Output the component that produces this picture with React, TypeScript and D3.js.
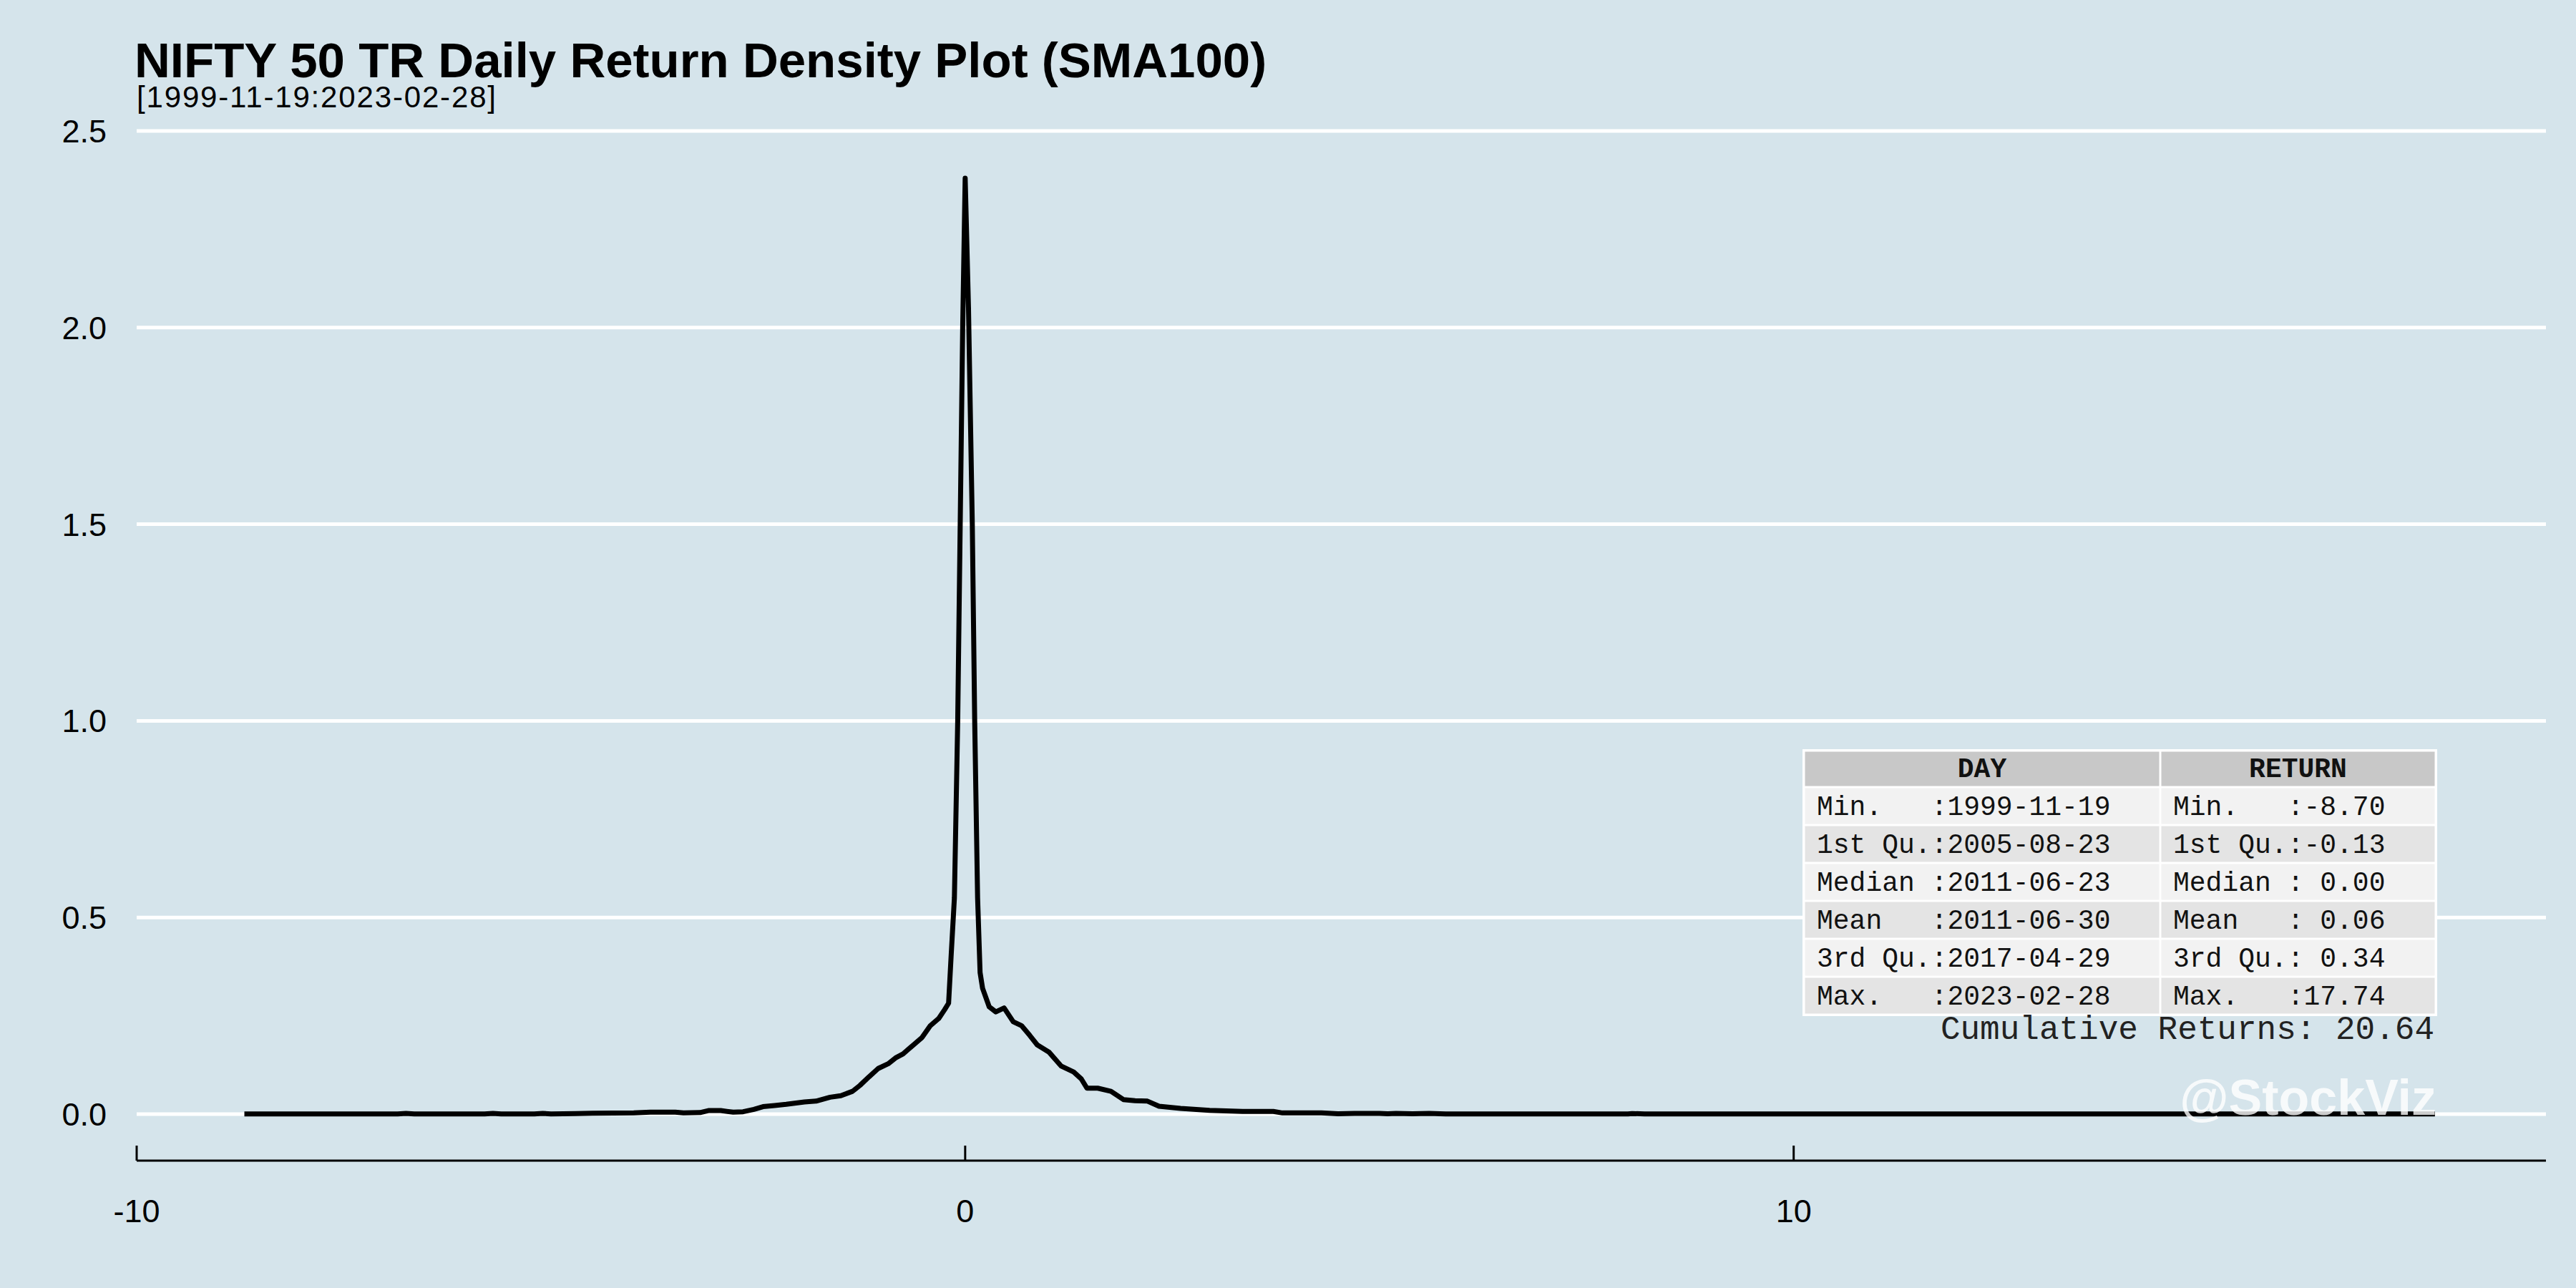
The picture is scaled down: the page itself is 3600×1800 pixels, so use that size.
import React from 'react';
import * as d3 from 'd3';

const titleText = 'NIFTY 50 TR Daily Return Density Plot (SMA100)';
const subtitleText = '[1999-11-19:2023-02-28]';
const watermarkText = '@StockViz';
const cumulativeText = 'Cumulative Returns: 20.64';

const returnX = [
  -8.7, -6.85, -6.75, -6.65, -5.8, -5.7, -5.6, -5.2, -5.1, -5.0, -4.7, -4.5, -4.0, -3.8, -3.5,
  -3.4, -3.2, -3.1, -2.95, -2.8, -2.68, -2.55, -2.44, -2.3, -2.16, -1.94, -1.8, -1.63, -1.5,
  -1.36, -1.27, -1.16, -1.05, -0.93, -0.84, -0.75, -0.63, -0.52, -0.42, -0.32, -0.25, -0.2,
  -0.17, -0.13, -0.09, -0.06, -0.03, 0.0, 0.04, 0.086, 0.115, 0.15, 0.18, 0.21, 0.29, 0.37,
  0.47, 0.58, 0.68, 0.78, 0.87, 1.01, 1.16, 1.31, 1.4, 1.47, 1.6, 1.76, 1.91, 2.05, 2.2, 2.34,
  2.6, 2.95, 3.35, 3.72, 3.83, 4.3, 4.5, 4.7, 5.0, 5.1, 5.2, 5.4, 5.6, 5.8, 8.0, 8.05, 8.2, 17.74,
];

const densityY = [
  0.0005, 0.0005, 0.002, 0.0005, 0.0005, 0.002, 0.0005, 0.0005, 0.002, 0.0005, 0.0015, 0.0025,
  0.003, 0.005, 0.005, 0.003, 0.004, 0.009, 0.009, 0.005, 0.006, 0.012, 0.019, 0.022, 0.025,
  0.031, 0.033, 0.043, 0.047, 0.058, 0.073, 0.095, 0.116, 0.128, 0.143, 0.153, 0.175, 0.195,
  0.225, 0.243, 0.265, 0.282, 0.4, 0.55, 1.0, 1.5, 2.0, 2.38, 2.05, 1.5, 1.0, 0.55, 0.36, 0.32,
  0.273, 0.26, 0.27, 0.235, 0.225, 0.2, 0.176, 0.158, 0.122, 0.107, 0.09, 0.066, 0.066, 0.058,
  0.037, 0.034, 0.033, 0.02, 0.0145, 0.0096, 0.0067, 0.0067, 0.003, 0.003, 0.001, 0.002, 0.002,
  0.001, 0.002, 0.001, 0.002, 0.0005, 0.0005, 0.0015, 0.0005, 0.0005,
];

const xTickValues = [-10, 0, 10];
const xTickLabels = ['-10', '0', '10'];
const yTickValues = [0, 0.5, 1, 1.5, 2, 2.5];
const yTickLabels = ['0.0', '0.5', '1.0', '1.5', '2.0', '2.5'];

const tableHeaders = ['DAY', 'RETURN'];
const dayStats = [
  'Min.   :1999-11-19',
  '1st Qu.:2005-08-23',
  'Median :2011-06-23',
  'Mean   :2011-06-30',
  '3rd Qu.:2017-04-29',
  'Max.   :2023-02-28',
];
const returnStats = [
  'Min.   :-8.70',
  '1st Qu.:-0.13',
  'Median : 0.00',
  'Mean   : 0.06',
  '3rd Qu.: 0.34',
  'Max.   :17.74',
];

const W = 3600;
const H = 1800;
const BG = '#d5e4eb';
const SANS = '"Liberation Sans", Arial, sans-serif';
const MONO = '"Liberation Mono", "Courier New", monospace';

export default function App() {
  const x = d3.scaleLinear().domain([-10, 19.08]).range([191, 3558]);
  const y = d3.scaleLinear().domain([0, 2.5]).range([1557, 183]);
  const pts = returnX.map((v, i) => [v, densityY[i]] as [number, number]);
  const line = d3
    .line<[number, number]>()
    .x((d) => x(d[0]))
    .y((d) => y(d[1]));
  const axisY = 1622;

  // table geometry
  const tLeft = 2521;
  const tRight = 3404;
  const tSplit = 3019;
  const tTop = 1049;
  const headH = 51;
  const rowH = 53;
  const colX = [tLeft, tSplit];
  const colW = [tSplit - tLeft, tRight - tSplit];
  const cols = [dayStats, returnStats];

  return (
    <svg
      width={W}
      height={H}
      viewBox={`0 0 ${W} ${H}`}
      style={{ position: 'absolute', left: 0, top: 0, display: 'block' }}
    >
      <rect x={0} y={0} width={W} height={H} fill={BG} />
      {/* gridlines */}
      {yTickValues.map((v) => (
        <line key={'g' + v} x1={191} x2={3558} y1={y(v)} y2={y(v)} stroke="#ffffff" strokeWidth={5} />
      ))}
      {/* y labels */}
      {yTickValues.map((v, i) => (
        <text
          key={'yl' + v}
          x={149}
          y={y(v) + 16}
          textAnchor="end"
          fontFamily={SANS}
          fontSize={45}
          fill="#000"
        >
          {yTickLabels[i]}
        </text>
      ))}
      {/* x axis */}
      <line x1={191} x2={3558} y1={axisY} y2={axisY} stroke="#000" strokeWidth={3} />
      {xTickValues.map((v, i) => (
        <g key={'xt' + v}>
          <line x1={x(v)} x2={x(v)} y1={axisY} y2={axisY - 21} stroke="#000" strokeWidth={3} />
          <text x={x(v)} y={1708} textAnchor="middle" fontFamily={SANS} fontSize={45} fill="#000">
            {xTickLabels[i]}
          </text>
        </g>
      ))}
      {/* density line */}
      <path d={line(pts) || ''} fill="none" stroke="#000" strokeWidth={7} strokeLinejoin="round" />
      {/* table */}
      <g>
        <rect x={tLeft - 2} y={tTop - 2} width={tRight - tLeft + 4} height={headH + rowH * 6 + 4} fill="#ffffff" />
        {tableHeaders.map((h, c) => (
          <g key={'h' + c}>
            <rect x={colX[c] + 1.5} y={tTop + 1.5} width={colW[c] - 3} height={headH - 3} fill="#c8c8c8" />
            <text
              x={colX[c] + colW[c] / 2}
              y={tTop + 37}
              textAnchor="middle"
              fontFamily={MONO}
              fontWeight="bold"
              fontSize={38}
              fill="#111"
            >
              {h}
            </text>
          </g>
        ))}
        {dayStats.map((_, r) =>
          cols.map((col, c) => (
            <g key={'c' + r + '_' + c}>
              <rect
                x={colX[c] + 1.5}
                y={tTop + headH + r * rowH + 1.5}
                width={colW[c] - 3}
                height={rowH - 3}
                fill={r % 2 === 0 ? '#f2f2f2' : '#e4e4e4'}
              />
              <text
                x={colX[c] + 18}
                y={tTop + headH + r * rowH + 39}
                fontFamily={MONO}
                fontSize={38}
                fill="#111"
                style={{ whiteSpace: 'pre' }}
              >
                {col[r]}
              </text>
            </g>
          ))
        )}
      </g>
      <text
        x={3402}
        y={1452}
        textAnchor="end"
        fontFamily={MONO}
        fontSize={46}
        fill="#222"
        style={{ whiteSpace: 'pre' }}
      >
        {cumulativeText}
      </text>
      {/* watermark */}
      <text
        x={3405}
        y={1558}
        textAnchor="end"
        fontFamily={SANS}
        fontWeight="bold"
        fontSize={70}
        fill="#ffffff"
        fillOpacity={0.8}
      >
        {watermarkText}
      </text>
      {/* titles */}
      <text x={188} y={108} fontFamily={SANS} fontWeight="bold" fontSize={69} fill="#000">
        {titleText}
      </text>
      <text
        x={191}
        y={150}
        fontFamily={SANS}
        fontSize={42}
        fill="#000"
        textLength={502}
        lengthAdjust="spacing"
      >
        {subtitleText}
      </text>
    </svg>
  );
}
